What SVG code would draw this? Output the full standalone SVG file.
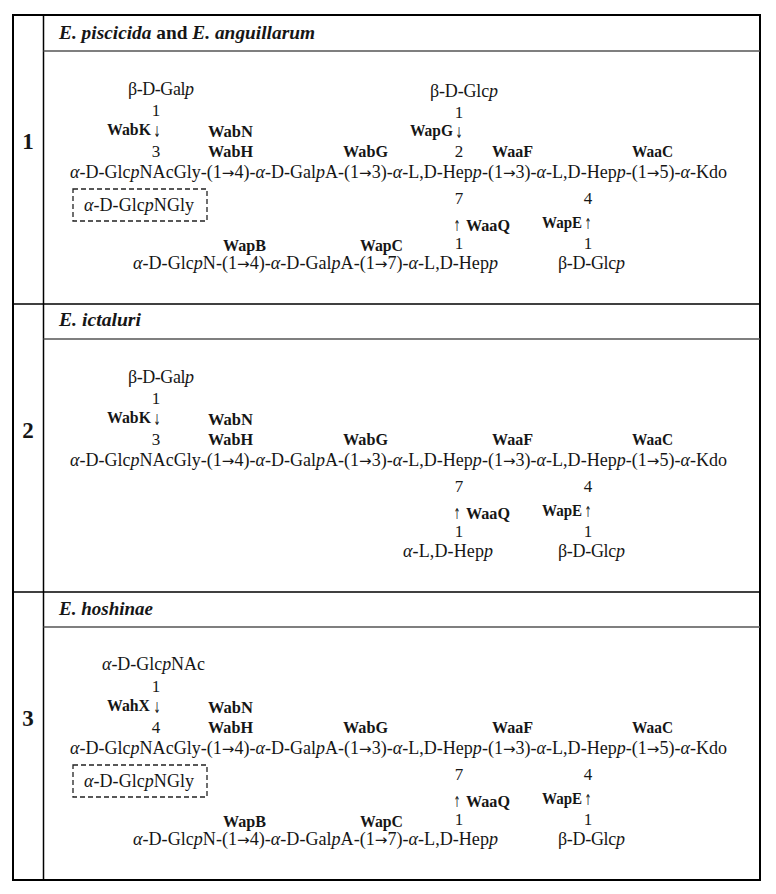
<svg xmlns="http://www.w3.org/2000/svg" width="776" height="894" viewBox="0 0 776 894">
<style>
text { font-family: "Liberation Serif", "DejaVu Serif", serif; fill: #161616; }
.t { font-size: 18px; }
.n { font-size: 17px; text-anchor: middle; }
.b { font-size: 16px; font-weight: bold; }
.ar { font-family: "DejaVu Sans", sans-serif; font-size: 15px; text-anchor: middle; }
.a { font-family: "DejaVu Sans", sans-serif; font-size: 15px; }
.h { font-size: 19px; font-weight: bold; }
.s { font-size: 23px; font-weight: bold; text-anchor: middle; }
.i { font-style: italic; }
.outer { fill: none; stroke: #000; stroke-width: 2; }
.rule { stroke: #000; stroke-width: 1.5; }
.sub { stroke: #555; stroke-width: 1.5; }
.dash { fill: none; stroke: #222; stroke-width: 1.3; stroke-dasharray: 5 3; }
</style>
<rect width="776" height="894" fill="#fff"/>

<g id="table">
  <rect class="outer" x="13" y="15" width="747" height="865"/>
  <line class="rule" x1="43.5" y1="15" x2="43.5" y2="880"/>
  <line class="rule" x1="13" y1="304" x2="760" y2="304"/>
  <line class="rule" x1="13" y1="592" x2="760" y2="592"/>
  <line class="sub" x1="43.5" y1="51" x2="760" y2="51"/>
  <line class="sub" x1="43.5" y1="339" x2="760" y2="339"/>
  <line class="sub" x1="43.5" y1="627" x2="760" y2="627"/>
</g>

<g id="section1">
  <text class="s" x="28" y="149">1</text>
  <text class="h" x="59" y="39" textLength="256" lengthAdjust="spacingAndGlyphs"><tspan class="i">E. piscicida</tspan> and <tspan class="i">E. anguillarum</tspan></text>
  <g id="s1-galp">
    <text class="t" x="128" y="95" textLength="66" lengthAdjust="spacing">β-D-Gal<tspan class="i">p</tspan></text>
    <text class="n" x="156" y="116">1</text>
    <text class="b" x="107" y="135" textLength="44" lengthAdjust="spacingAndGlyphs">WabK</text>
    <text class="ar" x="157" y="137" textLength="7" lengthAdjust="spacingAndGlyphs">↓</text>
    <text class="n" x="156" y="157">3</text>
  </g>
  <g id="s1-glcp-top">
    <text class="t" x="430" y="97" textLength="68" lengthAdjust="spacing">β-D-Glc<tspan class="i">p</tspan></text>
    <text class="n" x="459" y="118">1</text>
    <text class="b" x="410" y="136" textLength="43" lengthAdjust="spacingAndGlyphs">WapG</text>
    <text class="ar" x="459" y="138" textLength="7" lengthAdjust="spacingAndGlyphs">↓</text>
    <text class="n" x="459" y="157">2</text>
  </g>
  <g id="s1-enzymes">
    <text class="b" x="208" y="137" textLength="45" lengthAdjust="spacingAndGlyphs">WabN</text>
    <text class="b" x="208" y="157" textLength="45" lengthAdjust="spacingAndGlyphs">WabH</text>
    <text class="b" x="343" y="157" textLength="45" lengthAdjust="spacingAndGlyphs">WabG</text>
    <text class="b" x="492" y="157" textLength="41" lengthAdjust="spacingAndGlyphs">WaaF</text>
    <text class="b" x="632" y="157" textLength="41" lengthAdjust="spacingAndGlyphs">WaaC</text>
  </g>
  <g id="s1-main">
    <text class="t" x="70" y="178" textLength="657" lengthAdjust="spacingAndGlyphs"><tspan class="i">α</tspan>-D-Glc<tspan class="i">p</tspan>NAcGly-(1<tspan class="a">→</tspan>4)-<tspan class="i">α</tspan>-D-Gal<tspan class="i">p</tspan>A-(1<tspan class="a">→</tspan>3)-<tspan class="i">α</tspan>-L,D-Hep<tspan class="i">p</tspan>-(1<tspan class="a">→</tspan>3)-<tspan class="i">α</tspan>-L,D-Hep<tspan class="i">p</tspan>-(1<tspan class="a">→</tspan>5)-<tspan class="i">α</tspan>-Kdo</text>
  </g>
  <g id="s1-glcpngly">
    <rect class="dash" x="73" y="189" width="134" height="32"/>
    <text class="t" x="84" y="211" textLength="110" lengthAdjust="spacing"><tspan class="i">α</tspan>-D-Glc<tspan class="i">p</tspan>NGly</text>
  </g>
  <g id="s1-hep-branch">
    <text class="n" x="459" y="204">7</text>
    <text class="ar" x="457" y="231" textLength="7" lengthAdjust="spacingAndGlyphs">↑</text>
    <text class="b" x="466" y="231" textLength="44" lengthAdjust="spacingAndGlyphs">WaaQ</text>
    <text class="n" x="459" y="249">1</text>
    <text class="b" x="223" y="251" textLength="43" lengthAdjust="spacingAndGlyphs">WapB</text>
    <text class="b" x="360" y="251" textLength="43" lengthAdjust="spacingAndGlyphs">WapC</text>
    <text class="t" x="133" y="269" textLength="365" lengthAdjust="spacingAndGlyphs"><tspan class="i">α</tspan>-D-Glc<tspan class="i">p</tspan>N-(1<tspan class="a">→</tspan>4)-<tspan class="i">α</tspan>-D-Gal<tspan class="i">p</tspan>A-(1<tspan class="a">→</tspan>7)-<tspan class="i">α</tspan>-L,D-Hep<tspan class="i">p</tspan></text>
  </g>
  <g id="s1-glcp-bottom">
    <text class="n" x="588" y="204">4</text>
    <text class="b" x="542" y="228" textLength="40" lengthAdjust="spacingAndGlyphs">WapE</text>
    <text class="ar" x="588" y="229" textLength="7" lengthAdjust="spacingAndGlyphs">↑</text>
    <text class="n" x="588" y="249">1</text>
    <text class="t" x="558" y="269" textLength="67" lengthAdjust="spacing">β-D-Glc<tspan class="i">p</tspan></text>
  </g>
</g>

<g id="section2">
  <text class="s" x="28" y="438">2</text>
  <text class="h" x="59" y="326" textLength="82" lengthAdjust="spacingAndGlyphs"><tspan class="i">E. ictaluri</tspan></text>
  <g transform="translate(0,288)">
    <g id="s2-galp">
      <text class="t" x="128" y="95" textLength="66" lengthAdjust="spacing">β-D-Gal<tspan class="i">p</tspan></text>
      <text class="n" x="156" y="116">1</text>
      <text class="b" x="107" y="135" textLength="44" lengthAdjust="spacingAndGlyphs">WabK</text>
      <text class="ar" x="157" y="137" textLength="7" lengthAdjust="spacingAndGlyphs">↓</text>
      <text class="n" x="156" y="157">3</text>
    </g>
    <g id="s2-enzymes">
      <text class="b" x="208" y="137" textLength="45" lengthAdjust="spacingAndGlyphs">WabN</text>
      <text class="b" x="208" y="157" textLength="45" lengthAdjust="spacingAndGlyphs">WabH</text>
      <text class="b" x="343" y="157" textLength="45" lengthAdjust="spacingAndGlyphs">WabG</text>
      <text class="b" x="492" y="157" textLength="41" lengthAdjust="spacingAndGlyphs">WaaF</text>
      <text class="b" x="632" y="157" textLength="41" lengthAdjust="spacingAndGlyphs">WaaC</text>
    </g>
    <g id="s2-main">
      <text class="t" x="70" y="178" textLength="657" lengthAdjust="spacingAndGlyphs"><tspan class="i">α</tspan>-D-Glc<tspan class="i">p</tspan>NAcGly-(1<tspan class="a">→</tspan>4)-<tspan class="i">α</tspan>-D-Gal<tspan class="i">p</tspan>A-(1<tspan class="a">→</tspan>3)-<tspan class="i">α</tspan>-L,D-Hep<tspan class="i">p</tspan>-(1<tspan class="a">→</tspan>3)-<tspan class="i">α</tspan>-L,D-Hep<tspan class="i">p</tspan>-(1<tspan class="a">→</tspan>5)-<tspan class="i">α</tspan>-Kdo</text>
    </g>
    <g id="s2-hep-branch">
      <text class="n" x="459" y="204">7</text>
      <text class="ar" x="457" y="231" textLength="7" lengthAdjust="spacingAndGlyphs">↑</text>
      <text class="b" x="466" y="231" textLength="44" lengthAdjust="spacingAndGlyphs">WaaQ</text>
      <text class="n" x="459" y="249">1</text>
      <text class="t" x="403" y="269" textLength="90" lengthAdjust="spacing"><tspan class="i">α</tspan>-L,D-Hep<tspan class="i">p</tspan></text>
    </g>
    <g id="s2-glcp-bottom">
      <text class="n" x="588" y="204">4</text>
      <text class="b" x="542" y="228" textLength="40" lengthAdjust="spacingAndGlyphs">WapE</text>
      <text class="ar" x="588" y="229" textLength="7" lengthAdjust="spacingAndGlyphs">↑</text>
      <text class="n" x="588" y="249">1</text>
      <text class="t" x="558" y="269" textLength="67" lengthAdjust="spacing">β-D-Glc<tspan class="i">p</tspan></text>
    </g>
  </g>
</g>

<g id="section3">
  <text class="s" x="28" y="726">3</text>
  <text class="h" x="59" y="615" textLength="94" lengthAdjust="spacingAndGlyphs"><tspan class="i">E. hoshinae</tspan></text>
  <g transform="translate(0,576)">
    <g id="s3-glcpnac">
      <text class="t" x="102" y="94" textLength="103" lengthAdjust="spacing"><tspan class="i">α</tspan>-D-Glc<tspan class="i">p</tspan>NAc</text>
      <text class="n" x="156" y="116">1</text>
      <text class="b" x="107" y="135" textLength="43" lengthAdjust="spacingAndGlyphs">WahX</text>
      <text class="ar" x="157" y="137" textLength="7" lengthAdjust="spacingAndGlyphs">↓</text>
      <text class="n" x="156" y="157">4</text>
    </g>
    <g id="s3-enzymes">
      <text class="b" x="208" y="137" textLength="45" lengthAdjust="spacingAndGlyphs">WabN</text>
      <text class="b" x="208" y="157" textLength="45" lengthAdjust="spacingAndGlyphs">WabH</text>
      <text class="b" x="343" y="157" textLength="45" lengthAdjust="spacingAndGlyphs">WabG</text>
      <text class="b" x="492" y="157" textLength="41" lengthAdjust="spacingAndGlyphs">WaaF</text>
      <text class="b" x="632" y="157" textLength="41" lengthAdjust="spacingAndGlyphs">WaaC</text>
    </g>
    <g id="s3-main">
      <text class="t" x="70" y="178" textLength="657" lengthAdjust="spacingAndGlyphs"><tspan class="i">α</tspan>-D-Glc<tspan class="i">p</tspan>NAcGly-(1<tspan class="a">→</tspan>4)-<tspan class="i">α</tspan>-D-Gal<tspan class="i">p</tspan>A-(1<tspan class="a">→</tspan>3)-<tspan class="i">α</tspan>-L,D-Hep<tspan class="i">p</tspan>-(1<tspan class="a">→</tspan>3)-<tspan class="i">α</tspan>-L,D-Hep<tspan class="i">p</tspan>-(1<tspan class="a">→</tspan>5)-<tspan class="i">α</tspan>-Kdo</text>
    </g>
    <g id="s3-glcpngly">
      <rect class="dash" x="73" y="189" width="134" height="32"/>
      <text class="t" x="84" y="211" textLength="110" lengthAdjust="spacing"><tspan class="i">α</tspan>-D-Glc<tspan class="i">p</tspan>NGly</text>
    </g>
    <g id="s3-hep-branch">
      <text class="n" x="459" y="204">7</text>
      <text class="ar" x="457" y="231" textLength="7" lengthAdjust="spacingAndGlyphs">↑</text>
      <text class="b" x="466" y="231" textLength="44" lengthAdjust="spacingAndGlyphs">WaaQ</text>
      <text class="n" x="459" y="249">1</text>
      <text class="b" x="223" y="251" textLength="43" lengthAdjust="spacingAndGlyphs">WapB</text>
      <text class="b" x="360" y="251" textLength="43" lengthAdjust="spacingAndGlyphs">WapC</text>
      <text class="t" x="133" y="269" textLength="365" lengthAdjust="spacingAndGlyphs"><tspan class="i">α</tspan>-D-Glc<tspan class="i">p</tspan>N-(1<tspan class="a">→</tspan>4)-<tspan class="i">α</tspan>-D-Gal<tspan class="i">p</tspan>A-(1<tspan class="a">→</tspan>7)-<tspan class="i">α</tspan>-L,D-Hep<tspan class="i">p</tspan></text>
    </g>
    <g id="s3-glcp-bottom">
      <text class="n" x="588" y="204">4</text>
      <text class="b" x="542" y="228" textLength="40" lengthAdjust="spacingAndGlyphs">WapE</text>
      <text class="ar" x="588" y="229" textLength="7" lengthAdjust="spacingAndGlyphs">↑</text>
      <text class="n" x="588" y="249">1</text>
      <text class="t" x="558" y="269" textLength="67" lengthAdjust="spacing">β-D-Glc<tspan class="i">p</tspan></text>
    </g>
  </g>
</g>
</svg>
